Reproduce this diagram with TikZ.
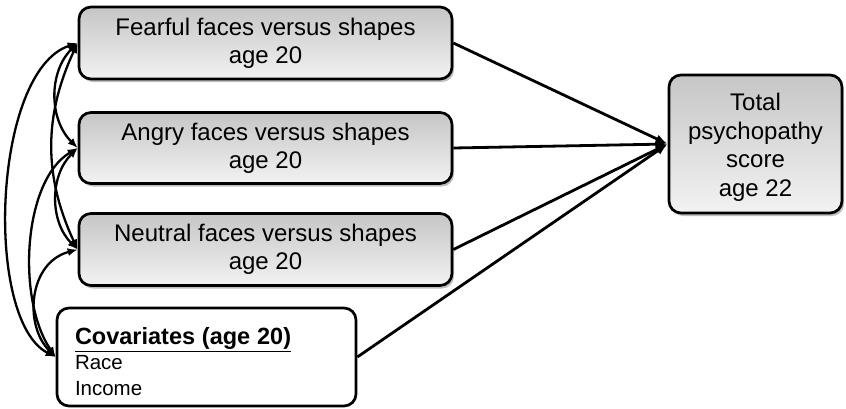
\documentclass[tikz,border=0pt]{standalone}
\usepackage{fontspec}
\setmainfont{Liberation Sans}
\usetikzlibrary{arrows.meta,shadows}
\begin{document}
\begin{tikzpicture}[x=1pt,y=-1pt,
  box/.style={draw=black, line width=2.7pt, rounded corners=12pt,
    top color=gray!45, bottom color=gray!10,
    drop shadow={shadow xshift=2pt, shadow yshift=-3pt, fill=black, opacity=0.25},
    align=center, inner sep=0pt, font=\fontsize{24}{28}\selectfont},
  plainbox/.style={draw=black, line width=2.7pt, rounded corners=12pt, fill=white,
    align=left, inner xsep=18pt, inner ysep=0pt, font=\fontsize{20.5}{25.5}\selectfont},
  conn/.style={line width=2.8pt, -{Latex[length=12pt,width=9pt]}},
  corr/.style={line width=2.3pt, {Latex[length=10pt,width=8pt]}-{Latex[length=10pt,width=8pt]}}]
\useasboundingbox (0,0) rectangle (846,408);

\node[box, minimum width=373pt, minimum height=72pt] (F) at (265.5,43) {Fearful faces versus shapes\\age 20};
\node[box, minimum width=373pt, minimum height=71pt] (A) at (265.5,148) {Angry faces versus shapes\\age 20};
\node[box, minimum width=373pt, minimum height=72pt] (N) at (265.5,249.5) {Neutral faces versus shapes\\age 20};
\node[plainbox, minimum height=98pt, text width=263pt] (C) at (206.5,357)
  {\rule{0pt}{26pt}{\fontsize{23.5}{25.5}\selectfont\bfseries\underline{Covariates (age 20)}}\\Race\\Income};
\node[box, minimum width=173pt, minimum height=138pt, font=\fontsize{24}{28.5}\selectfont] (T) at (755.5,144) {\rule{0pt}{24pt}Total\\psychopathy\\score\\age 22};

\draw[conn] (F.east) -- (T.west);
\draw[conn] (A.east) -- (T.west);
\draw[conn] (N.east) -- (T.west);
\draw[conn] (C.east) -- (T.west);

\draw[corr] (F.west) to[out=225, in=135] (A.west);
\draw[corr] (F.west) to[out=245, in=115] (N.west);
\draw[corr] (A.west) to[out=225, in=135] (N.west);
\draw[corr] (F.west) .. controls +(-85,28) and +(-72,-37) .. (C.west);
\draw[corr] (A.west) .. controls +(-55,33) and +(-39,-57) .. (C.west);
\draw[corr] (N.west) .. controls +(-49,13) and +(-32,-32) .. (C.west);
\end{tikzpicture}
\end{document}
